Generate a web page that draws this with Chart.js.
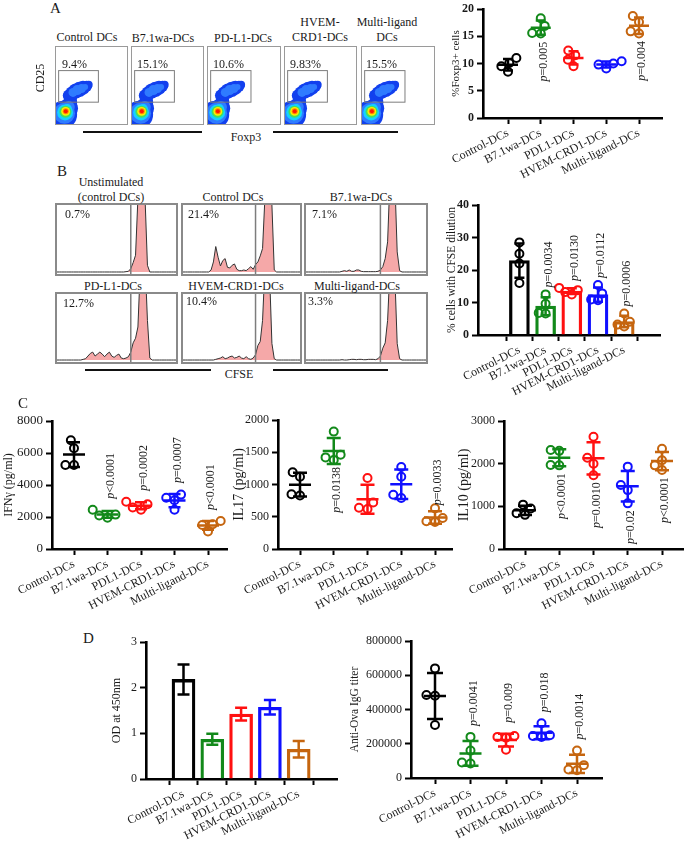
<!DOCTYPE html>
<html>
<head>
<meta charset="utf-8">
<title>Regulatory DC figure</title>
<script src="https://cdn.jsdelivr.net/npm/chart.js@4.4.1/dist/chart.umd.min.js"></script>
<style>
  body { margin: 0; background: #fff; }
  #fig { position: relative; width: 685px; height: 845px; overflow: hidden; background: #fff;
         font-family: "Liberation Serif", "Times New Roman", serif; color: #1a1a1a; }
  #fig canvas { position: absolute; }
  .t { position: absolute; font-size: 12px; line-height: 12px; white-space: nowrap; z-index: 3; }
  .c { transform: translateX(-50%); }
  .panel { position: absolute; font-size: 15px; line-height: 15px; z-index: 3; }
  .frame { position: absolute; box-sizing: border-box; border: 1px solid #9a9a9a; }
  .hist { border: 2px solid #8a8a8a; }
  .rule { position: absolute; height: 1.5px; background: #111; }
  .rot { position: absolute; font-size: 12px; line-height: 12px; white-space: nowrap; z-index: 3;
         transform: translate(-50%, -50%) rotate(-90deg); }
</style>
</head>
<body>
<div id="fig">
  <div class="panel" style="left:50px;top:1px">A</div>
  <div class="panel" style="left:57px;top:164px">B</div>
  <div class="panel" style="left:18px;top:396px">C</div>
  <div class="panel" style="left:83px;top:631px">D</div>

  <!-- A: flow plots -->
  <div class="frame" style="left:55px;top:46px;width:73px;height:79px"></div>
  <div class="frame" style="left:131px;top:46px;width:73px;height:79px"></div>
  <div class="frame" style="left:207px;top:46px;width:74px;height:79px"></div>
  <div class="frame" style="left:284px;top:46px;width:73px;height:79px"></div>
  <div class="frame" style="left:361px;top:46px;width:74px;height:79px"></div>
  <div class="t c" style="left:87px;top:31px">Control DCs</div>
  <div class="t c" style="left:163px;top:32px">B7.1wa-DCs</div>
  <div class="t c" style="left:243px;top:32px">PD-L1-DCs</div>
  <div class="t c" style="left:320px;top:16px">HVEM-</div>
  <div class="t c" style="left:320px;top:31px">CRD1-DCs</div>
  <div class="t c" style="left:387px;top:16px">Multi-ligand</div>
  <div class="t c" style="left:387px;top:31px">DCs</div>
  <div class="t" style="left:62px;top:58px">9.4%</div>
  <div class="t" style="left:137px;top:58px">15.1%</div>
  <div class="t" style="left:213px;top:58px">10.6%</div>
  <div class="t" style="left:290px;top:58px">9.83%</div>
  <div class="t" style="left:366px;top:58px">15.5%</div>
  <div class="rot" style="left:40px;top:78px">CD25</div>
  <div class="rule" style="left:83px;top:131px;width:119px"></div>
  <div class="rule" style="left:273px;top:131px;width:125px"></div>
  <div class="t c" style="left:246px;top:131px">Foxp3</div>

  <!-- B: CFSE histograms -->
  <div class="frame hist" style="left:55px;top:203px;width:123px;height:73px"></div>
  <div class="frame hist" style="left:181px;top:203px;width:121px;height:73px"></div>
  <div class="frame hist" style="left:304px;top:203px;width:124px;height:73px"></div>
  <div class="frame hist" style="left:55px;top:292px;width:123px;height:72px"></div>
  <div class="frame hist" style="left:181px;top:292px;width:121px;height:72px"></div>
  <div class="frame hist" style="left:304px;top:292px;width:124px;height:72px"></div>
  <div class="t c" style="left:111px;top:176px">Unstimulated</div>
  <div class="t c" style="left:111px;top:191px">(control DCs)</div>
  <div class="t c" style="left:233px;top:191px">Control DCs</div>
  <div class="t c" style="left:361px;top:191px">B7.1wa-DCs</div>
  <div class="t c" style="left:113px;top:280px">PD-L1-DCs</div>
  <div class="t c" style="left:236px;top:280px">HVEM-CRD1-DCs</div>
  <div class="t c" style="left:357px;top:280px">Multi-ligand-DCs</div>
  <div class="t" style="left:65px;top:208px">0.7%</div>
  <div class="t" style="left:188px;top:208px">21.4%</div>
  <div class="t" style="left:312px;top:208px">7.1%</div>
  <div class="t" style="left:63px;top:297px">12.7%</div>
  <div class="t" style="left:186px;top:295px">10.4%</div>
  <div class="t" style="left:308px;top:295px">3.3%</div>
  <div class="rule" style="left:85px;top:369px;width:126px"></div>
  <div class="rule" style="left:273px;top:369px;width:115px"></div>
  <div class="t c" style="left:239px;top:368px">CFSE</div>
</div>

<script>
const FONT = '"Liberation Serif", "Times New Roman", serif';

const groups = ['Control-DCs', 'B7.1wa-DCs', 'PDL1-DCs', 'HVEM-CRD1-DCs', 'Multi-ligand-DCs'];
const groupColors = ['#000000', '#12891a', '#ff1010', '#1010ff', '#c5650f'];

// A - Foxp3 vs CD25 density (Foxp3, CD25, spread), innermost level first
const cellsRed = [[13.7, 16.5, 2]];
const cellsOrange = [[13.7, 16.5, 3]];
const cellsYellow = [[13.6, 16.3, 4.4]];
const cellsGreen = [[13.3, 15.8, 6]];
const cellsCyan = [[12.8, 15, 8], [16, 20, 4.5]];
const cellsLightBlue = [[12, 14, 10.5], [18, 22, 6], [24, 41, 4.5], [30, 44, 5], [36, 46, 4.5], [41, 48, 3]];
const cellsBlue = [[10, 12, 14], [4, 4, 13], [17, 20, 10], [20, 28, 7], [21, 33, 6],
  [18, 37, 6], [23, 40, 7], [28, 43, 7.5], [33, 45, 7.5], [38, 47, 7], [43, 49, 5.5], [46, 51, 4]];
const densityColors = ['#ff1a00', '#ff8a00', '#ffee00', '#46e05a', '#14d2ff', '#2f7bff', '#1240ee'];
const flowGate = { foxp3: [3, 59], cd25: [29, 70] };

// A - %Foxp3+ cells
const foxp3Values = [[8.5, 9.5, 10.1, 11], [15.5, 15.6, 16.9, 18.3], [9.5, 10.7, 11.5, 12.4], [9.1, 9.8, 10, 10.4], [15.5, 15.9, 17.6, 18.7]];
const foxp3P = [null, 'p=0.005', null, null, 'p=0.004'];

// B - CFSE histograms
const cfseBins = [0, 2, 4, 6, 8, 10, 12, 14, 16, 18, 20, 22, 24, 26, 28, 30, 32, 34, 36, 38, 40, 42, 44, 46, 48, 50,
  52, 54, 56, 58, 60, 62, 64, 66, 68, 70, 72, 74, 76, 78, 80, 82, 84, 86, 88, 90, 92, 94, 96, 98, 100];
const cfseUnstim = [0, 0, 0, 0, 0, 0, 0, 0, 0, 0, 0, 0, 0, 0, 0, 0, 0, 0, 0, 0, 0, 0, 0, 0, 0, 0, 0, 0, 0, 0.5,
  1, 5, 14, 25, 110, 150, 150, 110, 10, 0, 0, 0, 0, 0, 0, 0, 0, 0, 0, 0, 0];
const cfseControl = [0, 0, 0, 0, 0, 0, 0, 0, 0, 0, 0, 0, 3, 15, 38, 22, 9, 17, 20, 7, 6, 10, 12, 4, 2, 2, 3, 2, 5, 8,
  4, 11, 15, 24, 35, 110, 150, 150, 100, 3, 0, 0, 0, 0, 0, 0, 0, 0, 0, 0, 0];
const cfseB71 = [0, 0, 0, 0, 0, 0, 0, 0, 0, 0, 0, 0, 0, 0, 0, 1, 2, 1, 3, 1, 1, 3, 3, 1, 0.5, 0.5, 0.5, 0.5, 0.5, 0.5,
  1, 3, 8, 20, 45, 140, 150, 140, 30, 2, 0, 0, 0, 0, 0, 0, 0, 0, 0, 0, 0];
const cfsePdl1 = [0, 0, 0, 0, 0, 0, 0, 0, 0, 0, 0, 1, 2, 6, 10, 12, 6, 9, 12, 9, 5, 9, 12, 6, 4, 7, 9, 3, 2, 3,
  5, 12, 26, 33, 50, 140, 150, 150, 60, 3, 0, 0, 0, 0, 0, 0, 0, 0, 0, 0, 0];
const cfseHvem = [0, 0, 0, 0, 0, 0, 0, 0, 0, 0, 0, 0, 0, 0, 1, 2, 3, 5, 2, 3, 5, 6, 3, 4, 6, 3, 2, 5, 2, 1,
  3, 8, 22, 28, 60, 140, 150, 130, 25, 2, 0, 0, 0, 0, 0, 0, 0, 0, 0, 0, 0];
const cfseMulti = [0, 0, 0, 0, 0, 0, 0, 0, 0, 0, 0, 0, 0, 0, 0, 0.5, 0, 0, 0.5, 1, 1, 0.5, 1, 1, 0.5, 0.5, 1, 1, 1, 0.5,
  2, 6, 18, 26, 60, 140, 150, 130, 25, 2, 0, 0, 0, 0, 0, 0, 0, 0, 0, 0, 0];
const cfseGate = 62;

// B - % cells with CFSE dilution
const cfseValues = [[16, 22, 25, 28.5], [6.6, 6.8, 9.6, 12.5], [12.5, 13.2, 13.8, 14.5], [10.7, 10.9, 12.8, 15.4], [2.6, 3.2, 4.1, 6.6]];
const cfseP = [null, 'p=0.0034', 'p=0.0130', 'p=0.0112', 'p=0.0006'];

// C - cytokines (pg/ml)
const ifngValues = [[5250, 5250, 6300, 6800], [1950, 2100, 2150, 2450], [2450, 2600, 2800, 2950], [2450, 3050, 3200, 3400], [1100, 1500, 1550, 1750]];
const ifngP = [null, 'p<0.0001', 'p=0.0002', 'p=0.0007', 'p<0.0001'];
const il17Values = [[830, 850, 1120, 1190], [1380, 1420, 1460, 1820], [620, 640, 720, 1100], [790, 840, 1120, 1270], [420, 430, 480, 630]];
const il17P = [null, 'p=0.0138', null, null, 'p=0.0033'];
const il10Values = [[800, 840, 950, 1040], [1960, 1970, 2300, 2320], [1730, 2000, 2140, 2630], [1070, 1380, 1500, 1930], [1850, 1960, 2080, 2350]];
const il10P = [null, 'p<0.0001', 'p=0.0010', 'p=0.02', 'p<0.0001'];

// D - OD at 450nm (mean, error) and anti-Ova IgG titer
const odMean = [2.18, 0.87, 1.42, 1.57, 0.65];
const odErr = [0.33, 0.12, 0.14, 0.16, 0.18];
const titerValues = [[310000, 480000, 485000, 640000], [85000, 90000, 160000, 240000], [165000, 235000, 240000, 245000], [240000, 245000, 250000, 320000], [45000, 50000, 75000, 160000]];
const titerP = [null, 'p=0.0041', 'p=0.009', 'p=0.018', 'p=0.0014'];

// layout frames (page pixels)
const flowFrames = [[55, 46, 73, 79], [131, 46, 73, 79], [207, 46, 74, 79], [284, 46, 73, 79], [361, 46, 74, 79]];
const histFrames = [[55, 203, 123, 73], [181, 203, 121, 73], [304, 203, 124, 73], [55, 292, 123, 72], [181, 292, 121, 72], [304, 292, 124, 72]];

const bare = { responsive: false, animation: false, events: [], layout: { autoPadding: false, padding: 0 } };
const quiet = { legend: { display: false }, tooltip: { enabled: false } };

function place(id, r) {
  const c = document.createElement('canvas');
  c.id = id;
  c.width = r.w; c.height = r.h;
  c.style.left = r.x + 'px'; c.style.top = r.y + 'px';
  c.style.width = r.w + 'px'; c.style.height = r.h + 'px';
  document.getElementById('fig').appendChild(c);
  return c;
}

function gatePlugin(rect, at) {
  return {
    id: 'gate',
    afterDatasetsDraw(chart) {
      const { ctx, chartArea, scales: { x, y } } = chart;
      ctx.save();
      ctx.strokeStyle = '#7d7d7d';
      if (rect) {
        ctx.lineWidth = 1;
        const x0 = x.getPixelForValue(rect.foxp3[0]), x1 = x.getPixelForValue(rect.foxp3[1]);
        const y0 = y.getPixelForValue(rect.cd25[0]), y1 = y.getPixelForValue(rect.cd25[1]);
        ctx.strokeRect(x0 + 0.5, y1 + 0.5, x1 - x0, y0 - y1);
      }
      if (at != null) {
        ctx.lineWidth = 1.5;
        const px = x.getPixelForValue(at);
        ctx.beginPath(); ctx.moveTo(px, chartArea.top); ctx.lineTo(px, chartArea.bottom); ctx.stroke();
      }
      ctx.restore();
    }
  };
}

// A: density plots
const densitySets = [cellsRed, cellsOrange, cellsYellow, cellsGreen, cellsCyan, cellsLightBlue, cellsBlue];
flowFrames.forEach((f, k) => {
  const cv = place('flow' + k, { x: f[0] + 1, y: f[1] + 1, w: f[2] - 2, h: f[3] - 2 });
  new Chart(cv, {
    type: 'bubble',
    data: { datasets: densitySets.map((pts, j) => ({
      data: pts.map(p => ({ x: p[0], y: p[1], r: p[2] })),
      backgroundColor: densityColors[j], borderWidth: 0,
    })) },
    options: { ...bare, plugins: quiet,
      scales: { x: { display: false, min: 0, max: 100 }, y: { display: false, min: 0, max: 100 } } },
    plugins: [gatePlugin(flowGate, null)],
  });
});

// B: histograms
[cfseUnstim, cfseControl, cfseB71, cfsePdl1, cfseHvem, cfseMulti].forEach((counts, k) => {
  const f = histFrames[k];
  const cv = place('hist' + k, { x: f[0] + 2, y: f[1] + 2, w: f[2] - 4, h: f[3] - 4 });
  new Chart(cv, {
    type: 'line',
    data: { datasets: [{
      data: cfseBins.map((b, i) => ({ x: b, y: counts[i] })),
      fill: 'origin', backgroundColor: '#f5a8a8', borderColor: '#333', borderWidth: 1, pointRadius: 0, tension: 0,
    }] },
    options: { ...bare, plugins: quiet,
      scales: { x: { type: 'linear', display: false, min: 0, max: 100 }, y: { display: false, min: -3, max: 100 } } },
    plugins: [gatePlugin(null, cfseGate)],
  });
});

// simple beeswarm: offsets (in category units) so circles do not overlap
function swarm(vals, pxY, pxX) {
  const D = 8.6;
  const order = vals.map((v, k) => k).sort((a, b) => vals[a] - vals[b]);
  const placed = [];
  const offs = [];
  order.forEach(k => {
    const py = vals[k] * pxY;
    const cands = [0];
    placed.forEach(p => {
      const dy = Math.abs(p.py - py);
      if (dy < D) { const dx = Math.sqrt(D * D - dy * dy); cands.push(p.px - dx, p.px + dx); }
    });
    const ok = cands.filter(c => placed.every(p => (p.px - c) ** 2 + (p.py - py) ** 2 >= D * D - 0.01))
      .sort((a, b) => Math.abs(a) - Math.abs(b) || a - b);
    placed.push({ px: ok[0], py });
    offs[k] = ok[0] / pxX;
  });
  return offs;
}

function summaryPlugin(stats, look) {
  return {
    id: 'summary',
    afterDatasetsDraw(chart) {
      const { ctx, scales: { x, y } } = chart;
      ctx.save();
      ctx.lineWidth = 2.5;
      stats.forEach((s, i) => {
        const cx = x.getPixelForValue(i);
        const ym = y.getPixelForValue(s.mean);
        const yt = y.getPixelForValue(s.mean + s.err), yb = y.getPixelForValue(Math.max(0, s.mean - s.err));
        ctx.strokeStyle = groupColors[i];
        ctx.beginPath();
        if (look.mean) { ctx.moveTo(cx - look.mean, ym); ctx.lineTo(cx + look.mean, ym); }
        ctx.moveTo(cx, yt); ctx.lineTo(cx, yb);
        ctx.moveTo(cx - look.cap, yt); ctx.lineTo(cx + look.cap, yt);
        ctx.moveTo(cx - look.cap, yb); ctx.lineTo(cx + look.cap, yb);
        ctx.stroke();
      });
      ctx.restore();
    }
  };
}

function pValuePlugin(labels, sides, gap, points, stats) {
  return {
    id: 'pvalues',
    afterDatasetsDraw(chart) {
      const { ctx, scales: { x, y } } = chart;
      labels.forEach((lab, i) => {
        if (!lab) return;
        const side = Array.isArray(sides) ? sides[i] : sides;
        const vals = (points ? points[i] : []).concat([stats[i].mean + stats[i].err, stats[i].mean - stats[i].err]);
        const hi = y.getPixelForValue(Math.max(...vals)), lo = y.getPixelForValue(Math.min(...vals));
        const anchor = side === 'above' ? hi - gap : lo + gap;
        const rest = lab.slice(1);
        ctx.save();
        ctx.translate(x.getPixelForValue(i) + 3, anchor);
        ctx.rotate(-Math.PI / 2);
        ctx.textBaseline = 'middle';
        ctx.textAlign = 'left';
        ctx.fillStyle = '#222';
        ctx.font = 'italic 12px ' + FONT;
        const wp = ctx.measureText('p').width;
        ctx.font = '12px ' + FONT;
        const total = wp + ctx.measureText(rest).width;
        const start = side === 'above' ? 0 : -total;
        ctx.font = 'italic 12px ' + FONT;
        ctx.fillText('p', start, 0);
        ctx.font = '12px ' + FONT;
        ctx.fillText(rest, start + wp, 0);
        ctx.restore();
      });
    }
  };
}

function axisChart(id, rect, area, tickSpan, yAxis, spec) {
  const n = groups.length;
  const step = (tickSpan[1] - tickSpan[0]) / (n - 1);
  const xMin = -(tickSpan[0] - area.left) / step;
  const xMax = n - 1 + (area.right - tickSpan[1]) / step;
  const pxY = (area.bottom - area.top) / yAxis.max;
  const datasets = [];
  const stats = [];
  groups.forEach((g, i) => {
    if (spec.points) {
      const vals = spec.points[i];
      const mean = vals.reduce((a, b) => a + b, 0) / vals.length;
      const err = Math.sqrt(vals.reduce((a, b) => a + (b - mean) ** 2, 0) / (vals.length - 1));
      stats.push({ mean, err });
      const offs = swarm(vals, pxY, step);
      datasets.push({
        type: 'scatter', order: 0,
        data: vals.map((v, k) => ({ x: i + offs[k], y: v })),
        pointRadius: 4, pointBorderWidth: 2, pointBorderColor: groupColors[i], pointBackgroundColor: 'rgba(0,0,0,0)',
      });
    } else {
      stats.push({ mean: spec.means[i], err: spec.errs[i] });
    }
  });
  if (spec.barWidth) {
    datasets.push({
      type: 'bar', order: 1,
      data: stats.map((s, i) => ({ x: i, y: s.mean })),
      backgroundColor: 'rgba(255,255,255,0)', borderColor: groupColors, borderWidth: 2.6, barThickness: spec.barWidth,
    });
  }
  const cv = place(id, rect);
  const axisLine = { display: true, color: '#000', width: 2.6 };
  const tickMarks = { display: true, drawOnChartArea: false, drawTicks: true, tickLength: 6, tickWidth: 2, color: '#000' };
  const plugins = [summaryPlugin(stats, spec.look)];
  if (spec.pLabels) plugins.push(pValuePlugin(spec.pLabels, spec.pSide, spec.pGap, spec.points, stats));
  new Chart(cv, {
    type: 'scatter',
    data: { datasets },
    options: {
      ...bare,
      layout: { autoPadding: false, padding: { left: 0, top: area.top - rect.y, right: rect.x + rect.w - area.right, bottom: 0 } },
      plugins: quiet,
      scales: {
        x: {
          type: 'linear', min: xMin, max: xMax,
          afterBuildTicks: a => { a.ticks = groups.map((g, i) => ({ value: i })); },
          afterFit: a => { a.height = rect.y + rect.h - area.bottom; a.paddingLeft = 0; a.paddingRight = 0; },
          border: axisLine, grid: tickMarks,
          ticks: { autoSkip: false, minRotation: 27, maxRotation: 27, padding: 2, color: '#1a1a1a',
                   font: { family: FONT, size: 12 }, callback: v => groups[v] },
        },
        y: {
          min: 0, max: yAxis.max,
          afterFit: a => { a.width = area.left - rect.x; a.paddingTop = 0; a.paddingBottom = 0; },
          border: axisLine, grid: tickMarks,
          ticks: { stepSize: yAxis.step, padding: 3, color: '#1a1a1a', callback: v => String(v),
                   font: { family: FONT, size: yAxis.tickSize || 12, weight: yAxis.bold ? 'bold' : 'normal' } },
          title: { display: true, text: yAxis.title, color: '#1a1a1a', padding: 0, font: { family: FONT, size: yAxis.titleSize || 12 } },
        },
      },
    },
    plugins,
  });
}

axisChart('foxp3', { x: 450, y: 0, w: 235, h: 195 }, { left: 483, right: 662, top: 9, bottom: 118 }, [508, 639],
  { max: 20, step: 5, title: '%Foxp3+ cells', titleSize: 11, bold: true },
  { points: foxp3Values, look: { mean: 10, cap: 5 }, pLabels: foxp3P, pSide: 'below', pGap: 7 });

axisChart('cfse', { x: 445, y: 195, w: 240, h: 215 }, { left: 478, right: 660, top: 205, bottom: 335 }, [507, 638],
  { max: 40, step: 10, title: '% cells with CFSE dilution', titleSize: 11.5, bold: true },
  { points: cfseValues, barWidth: 20, look: { mean: 0, cap: 5 }, pLabels: cfseP, pSide: 'above', pGap: 7 });

axisChart('ifng', { x: 2, y: 405, w: 230, h: 210 }, { left: 52, right: 227, top: 421, bottom: 549 }, [74, 208],
  { max: 8000, step: 2000, title: 'IFNγ (pg/ml)', titleSize: 12, tickSize: 13 },
  { points: ifngValues, look: { mean: 11, cap: 6 }, pLabels: ifngP, pSide: 'above', pGap: 11 });

axisChart('il17', { x: 231, y: 405, w: 224, h: 210 }, { left: 278, right: 452, top: 420, bottom: 549 }, [300, 435],
  { max: 2000, step: 500, title: 'IL17 (pg/ml)', titleSize: 14 },
  { points: il17Values, look: { mean: 11, cap: 7 }, pLabels: il17P, pSide: [null, 'below', null, null, 'above'], pGap: 3 });

axisChart('il10', { x: 456, y: 405, w: 229, h: 210 }, { left: 504, right: 683, top: 421, bottom: 549 }, [525, 662],
  { max: 3000, step: 1000, title: 'IL10 (pg/ml)', titleSize: 14 },
  { points: il10Values, look: { mean: 11, cap: 7 }, pLabels: il10P, pSide: 'below', pGap: 7 });

axisChart('od', { x: 110, y: 625, w: 232, h: 220 }, { left: 146, right: 337, top: 642, bottom: 779 }, [169, 313],
  { max: 3, step: 1, title: 'OD at 450nm', titleSize: 12 },
  { means: odMean, errs: odErr, barWidth: 23, look: { mean: 0, cap: 6 } });

axisChart('titer', { x: 348, y: 625, w: 260, h: 220 }, { left: 411, right: 602, top: 641, bottom: 778 }, [435, 577],
  { max: 800000, step: 200000, title: 'Anti-Ova IgG titer', titleSize: 11.5 },
  { points: titerValues, look: { mean: 11, cap: 8 }, pLabels: titerP, pSide: 'above', pGap: 11 });
</script>
</body>
</html>
